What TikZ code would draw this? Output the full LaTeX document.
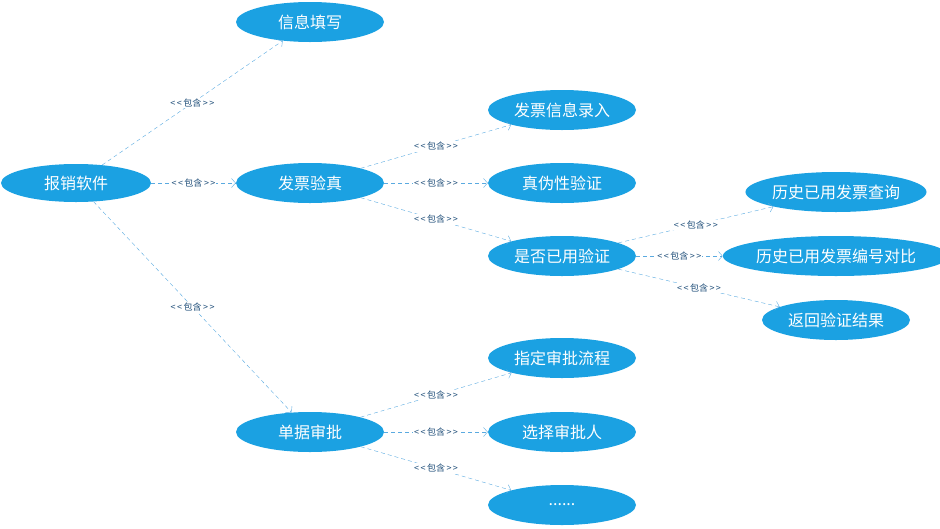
\documentclass[tikz,border=0pt]{standalone}
\usepackage{fontspec}
\setmainfont{Noto Sans CJK SC}
\newfontfamily\lab{DejaVu Sans}
\usetikzlibrary{shapes.geometric,arrows.meta}
\definecolor{uc}{HTML}{1BA1E2}
\definecolor{ln}{HTML}{5AAAE0}
\definecolor{lt}{HTML}{1F4E79}
\newcommand{\bh}{\textless\,\textless\,包含\,\textgreater\,\textgreater}
\begin{document}
\begin{tikzpicture}[x=1pt,y=-1pt,
 uc/.style={ellipse,fill=uc,draw=none,text=white,minimum width=148pt,minimum height=40pt,inner sep=0pt,font=\fontsize{16}{18}\selectfont},
 inc/.style={draw=ln,dash pattern=on 4pt off 3pt,-{Straight Barb[length=4pt,width=9pt]},
   every node/.style={fill=white,inner sep=1pt,text=lt,font=\fontsize{9}{10}\selectfont}}]
\useasboundingbox (0,0) rectangle (940,528);
\node[uc,minimum width=150pt,minimum height=38pt] (root) at (76,183) {报销软件};
\node[uc] (xx) at (310,22) {信息填写};
\node[uc] (fp) at (310,183) {发票验真};
\node[uc] (dj) at (310,432) {单据审批};
\node[uc] (lr) at (562,110) {发票信息录入};
\node[uc] (zw) at (562,183) {真伪性验证};
\node[uc] (sf) at (562,256) {是否已用验证};
\node[uc] (zd) at (562,358) {指定审批流程};
\node[uc] (xz) at (562,432) {选择审批人};
\node[uc] (dd) at (562,505) {......};
\node[uc] (cx) at (836,192) {历史已用发票查询};
\node[uc,minimum width=200pt] (db) at (836,256) {历史已用发票编号对比};
\node[uc] (fh) at (836,320) {返回验证结果};
\draw[inc] (root) -- node{\bh} (xx);
\draw[inc] (root) -- node{\bh} (fp);
\draw[inc] (root) -- node{\bh} (dj);
\draw[inc] (fp) -- node{\bh} (lr);
\draw[inc] (fp) -- node{\bh} (zw);
\draw[inc] (fp) -- node{\bh} (sf);
\draw[inc] (sf) -- node{\bh} (cx);
\draw[inc] (sf) -- node{\bh} (db);
\draw[inc] (sf) -- node{\bh} (fh);
\draw[inc] (dj) -- node{\bh} (zd);
\draw[inc] (dj) -- node{\bh} (xz);
\draw[inc] (dj) -- node{\bh} (dd);
\end{tikzpicture}
\end{document}
